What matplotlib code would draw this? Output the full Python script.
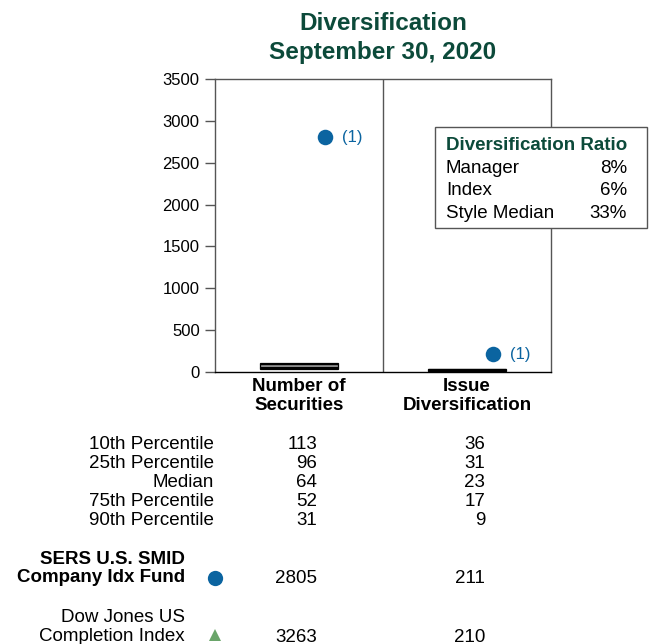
import matplotlib
matplotlib.use("Agg")
import matplotlib.pyplot as plt
from matplotlib.transforms import blended_transform_factory

plt.rcParams['font.family'] = ['Liberation Sans', 'DejaVu Sans']

# Data
categories = ["Number of\nSecurities", "Issue\nDiversification"]
pct_labels = ["10th Percentile", "25th Percentile", "Median", "75th Percentile", "90th Percentile"]
num_securities = [113, 96, 64, 52, 31]
issue_div = [36, 31, 23, 17, 9]
fund_name = "SERS U.S. SMID\nCompany Idx Fund"
fund_values = [2805, 211]
index_name = "Dow Jones US\nCompletion Index"
index_values = [3263, 210]
ratio_labels = ["Manager", "Index", "Style Median"]
ratio_values = ["8%", "6%", "33%"]
yticks = [0, 500, 1000, 1500, 2000, 2500, 3000, 3500]

GREEN = "#0c4a3a"
BLUE = "#0b64a0"
TRI = "#6aa56a"
GRID = "#555555"
FS = 13.5
LS = 1.1

W, H = 654, 644
fig = plt.figure(figsize=(W / 100, H / 100), dpi=100)
ax = fig.add_axes([215 / W, 1 - 372 / H, 336 / W, 293 / H])

xs = [0, 1]
bar_w = 0.46
for x, vals in zip(xs, [num_securities, issue_div]):
    edges = sorted(vals)
    for lo, hi in zip(edges[:-1], edges[1:]):
        ax.bar(x, hi - lo, bottom=lo, width=bar_w, color="#a0a0a0",
               edgecolor="black", linewidth=0.9, zorder=3)

ax.scatter([x + 0.155 for x in xs], fund_values, s=125, color=BLUE, zorder=4,
           linewidths=0, clip_on=False)
for x, v in zip(xs, fund_values):
    ax.annotate("(1)", (x + 0.155, v), xytext=(12, 0), textcoords="offset points",
                va="center", ha="left", color=BLUE, fontsize=12)

ax.axvline(0.5, color=GRID, linewidth=1.0)
ax.set_xlim(-0.5, 1.5)
ax.set_ylim(0, 3500)
ax.set_yticks(yticks)
ax.set_yticklabels([str(t) for t in yticks], fontsize=12)
ax.set_xticks(xs)
ax.set_xticklabels([])
ax.tick_params(axis="x", length=0)
ax.tick_params(axis="y", length=7, color=GRID, width=1.0, pad=4)
for s in ax.spines.values():
    s.set_color(GRID)
    s.set_linewidth(1.0)
ax.spines["bottom"].set_color("black")

# Category labels under the axis
cat_tr = blended_transform_factory(ax.transData, fig.transFigure)
for x, lab in zip(xs, categories):
    ax.text(x, 1 - 396 / H, lab, transform=cat_tr, ha="center", va="center",
            fontsize=FS, fontweight="bold", linespacing=LS)

# Title
fig.text(383 / W, 1 - 24 / H, "Diversification", ha="center", va="center",
         fontsize=17.5, fontweight="bold", color=GREEN)
fig.text(383 / W, 1 - 52 / H, "September 30, 2020", ha="center", va="center",
         fontsize=17.5, fontweight="bold", color=GREEN)

# Diversification ratio box
bx0, by0, bx1, by1 = 435, 127, 647, 228
fig.patches.append(plt.Rectangle((bx0 / W, 1 - by1 / H), (bx1 - bx0) / W, (by1 - by0) / H,
                                 transform=fig.transFigure, facecolor="white",
                                 edgecolor=GRID, linewidth=1.0, zorder=5))
fig.text(446 / W, 1 - 146 / H, "Diversification Ratio", ha="left", va="center",
         fontsize=FS, fontweight="bold", color=GREEN, zorder=6)
for i, (lab, val) in enumerate(zip(ratio_labels, ratio_values)):
    y = 1 - (168.5 + 22.5 * i) / H
    fig.text(446 / W, y, lab, ha="left", va="center", fontsize=FS, zorder=6)
    fig.text(627 / W, y, val, ha="right", va="center", fontsize=FS, zorder=6)

# Percentile table
col_right = [317 / W, 485 / W]
for i, lab in enumerate(pct_labels):
    y = 1 - (444.5 + 19 * i) / H
    fig.text(214 / W, y, lab, ha="right", va="center", fontsize=FS)
    fig.text(col_right[0], y, str(num_securities[i]), ha="right", va="center", fontsize=FS)
    fig.text(col_right[1], y, str(issue_div[i]), ha="right", va="center", fontsize=FS)

# Fund row
fig.text(185 / W, 1 - 568.5 / H, fund_name, ha="right", va="center", fontsize=FS,
         fontweight="bold", linespacing=LS)
fig.add_artist(plt.Line2D([215 / W], [1 - 578 / H], marker="o", markersize=11,
                          markeredgewidth=0, color=BLUE, transform=fig.transFigure,
                          linestyle="none"))
for c, v in zip(col_right, fund_values):
    fig.text(c, 1 - 578.5 / H, str(v), ha="right", va="center", fontsize=FS)

# Index row
fig.text(185 / W, 1 - 627 / H, index_name, ha="right", va="center", fontsize=FS,
         linespacing=LS)
fig.add_artist(plt.Line2D([215 / W], [1 - 635 / H], marker="^", markersize=9,
                          markeredgewidth=0, color=TRI, transform=fig.transFigure,
                          linestyle="none"))
for c, v in zip(col_right, index_values):
    fig.text(c, 1 - 637 / H, str(v), ha="right", va="center", fontsize=FS)

fig.savefig("out.png", dpi=100)
